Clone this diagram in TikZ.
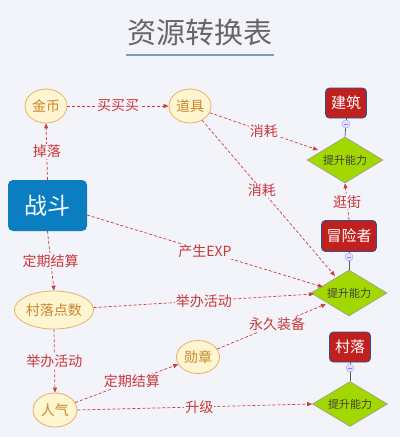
\documentclass[tikz,border=0pt]{standalone}
\usepackage{fontspec}
\setmainfont{Noto Sans CJK SC}
\usetikzlibrary{shapes.geometric,arrows.meta}
\definecolor{bg}{HTML}{F3F4FA}
\definecolor{edgered}{HTML}{D23A3A}
\definecolor{labred}{HTML}{C8373A}
\definecolor{ellfill}{HTML}{FFF5D0}
\definecolor{elldraw}{HTML}{E6B06A}
\definecolor{elltext}{HTML}{C8862A}
\definecolor{boxred}{HTML}{C0211F}
\definecolor{boxline}{HTML}{2D4F8A}
\definecolor{dia}{HTML}{A2D800}
\definecolor{fightblue}{HTML}{0A7EC0}
\definecolor{titlegray}{HTML}{666666}
\definecolor{uline}{HTML}{7A9CC0}
\tikzset{
  res/.style={ellipse, draw=elldraw, fill=ellfill, line width=0.8pt, text=elltext, font=\fontsize{14}{14}\selectfont, inner sep=0pt},
  redbox/.style={rectangle, rounded corners=4pt, draw=boxline, fill=boxred, line width=0.8pt, text=white, font=\fontsize{15}{15}\selectfont, inner sep=0pt},
  boost/.style={diamond, draw=gray!80, fill=dia, line width=0.6pt, text=black!75, font=\fontsize{11}{11}\selectfont, inner sep=0pt, aspect=1.65},
  knob/.style={circle, draw=blue!35, fill=blue!12, line width=0.5pt, minimum size=8pt, inner sep=0pt},
  flow/.style={draw=edgered, densely dashed, line width=0.7pt, -{Triangle[length=5pt,width=4pt]}},
  lab/.style={fill=bg, text=labred, font=\fontsize{14}{14}\selectfont, inner sep=1pt},
  tie/.style={draw=gray!70!black, line width=0.7pt}
}
\begin{document}
\begin{tikzpicture}[x=1pt,y=-1pt]
\fill[bg] (0,0) rectangle (400,437);
\useasboundingbox (0,0) rectangle (400,437);
\node[text=titlegray, font=\fontsize{29}{29}\selectfont] (title) at (200,32) {资源转换表};
\draw[uline, line width=1.6pt] (126,55) -- (274,55);

\node[res, minimum width=42pt, minimum height=34pt] (gold) at (46,106) {金币};
\node[res, minimum width=42pt, minimum height=34pt] (item) at (190,106) {道具};
\node[res, minimum width=74pt, minimum height=38pt] (pts) at (54,310) {村落点数};
\node[res, minimum width=43pt, minimum height=33pt] (medal) at (198,357) {勋章};
\node[res, minimum width=44pt, minimum height=34pt] (pop) at (55,410) {人气};

\node[rectangle, rounded corners=5pt, fill=fightblue, text=white, minimum width=79pt, minimum height=51pt, font=\fontsize{23}{23}\selectfont] (fight) at (47.5,205.5) {战斗};

\node[redbox, minimum width=41pt, minimum height=30pt] (bld) at (346,103) {建筑};
\node[redbox, minimum width=55pt, minimum height=31pt] (adv) at (349,236) {冒险者};
\node[redbox, minimum width=41pt, minimum height=30pt] (vil) at (350,347) {村落};

\node[boost, minimum width=76pt, minimum height=46pt] (d1) at (345,160) {提升能力};
\node[boost, minimum width=76pt, minimum height=46pt] (d2) at (349,293) {提升能力};
\node[boost, minimum width=75pt, minimum height=45pt] (d3) at (350,404) {提升能力};

\node[knob] (k1) at (346,124) {};
\node[knob] (k2) at (349,257) {};
\node[knob] (k3) at (350,368) {};
\draw[tie] (bld) -- (k1); \draw[tie] (k1) -- (d1.north);
\draw[tie] (adv) -- (k2); \draw[tie] (k2) -- (d2.north);
\draw[tie] (vil) -- (k3); \draw[tie] (k3) -- (d3.north);
\draw[blue!50, line width=0.6pt] ([xshift=-2pt]k1.center) -- ([xshift=2pt]k1.center);
\draw[blue!50, line width=0.6pt] ([xshift=-2pt]k2.center) -- ([xshift=2pt]k2.center);
\draw[blue!50, line width=0.6pt] ([xshift=-2pt]k3.center) -- ([xshift=2pt]k3.center);

\coordinate (d1w) at (318,150);
\coordinate (d2a) at (335,276);
\coordinate (d2b) at (323,287);
\coordinate (d2c) at (314,294);
\coordinate (d2d) at (326,304);
\coordinate (fe) at (87,215);

\draw[flow] (fight.north) -- node[lab]{掉落} (gold.south);
\draw[flow] (gold) -- node[lab]{买买买} (item);
\draw[flow] (item) -- node[lab]{消耗} (d1w);
\draw[flow] (item) -- node[lab, pos=0.45]{消耗} (d2a);
\draw[flow] (adv.north) -- node[lab]{逛街} (d1.south);
\draw[flow] (fe) -- node[lab, pos=0.5]{产生EXP} (d2b);
\draw[flow] (fight.south) -- node[lab]{定期结算} (pts.north);
\draw[flow] (pts) -- node[lab]{举办活动} (d2c);
\draw[flow] (medal) -- node[lab, pos=0.55]{永久装备} (d2d);
\draw[flow] (pts.south) -- node[lab]{举办活动} (pop.north);
\draw[flow] (pop) -- node[lab, pos=0.55]{定期结算} (medal);
\draw[flow] (pop.east) -- node[lab, pos=0.52]{升级} (d3.west);
\end{tikzpicture}
\end{document}
